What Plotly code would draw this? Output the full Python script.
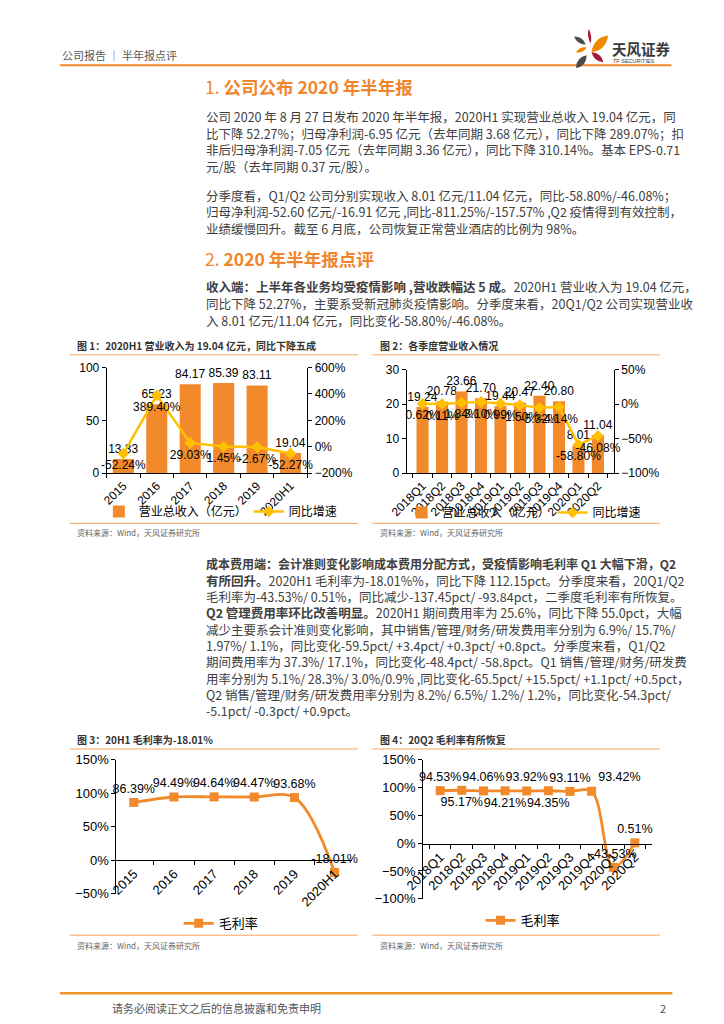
import plotly.graph_objects as go

W, H = 724, 1024


def px(x):
    return x / W


def py(y):
    return 1 - y / H


# ---------------- data ----------------
years = ["2015", "2016", "2017", "2018", "2019", "2020H1"]
revenue = [13.33, 65.23, 84.17, 85.39, 83.11, 19.04]
revenue_yoy = [-52.24, 389.40, 29.03, 1.45, -2.67, -52.27]

quarters = ["2018Q1", "2018Q2", "2018Q3", "2018Q4", "2019Q1",
            "2019Q2", "2019Q3", "2019Q4", "2020Q1", "2020Q2"]
q_revenue = [19.24, 20.78, 23.66, 21.70, 19.44, 20.47, 22.40, 20.80, 8.01, 11.04]
q_yoy = [0.62, 0.11, 1.84, 3.10, 0.99, -1.50, -5.32, -4.14, -58.80, -46.08]

gross_margin = [86.39, 94.49, 94.64, 94.47, 93.68, -18.01]
q_gross_margin = [94.53, 95.17, 94.06, 94.21, 93.92, 94.35, 93.11, 93.42, -43.53, 0.51]
q_gm_textpos = ["top center", "bottom center", "top center", "bottom center", "top center",
                "bottom center", "top center", "top right", "top center", "top center"]

ORANGE = "#F28A2C"
GOLD = "#FFC000"
LINE_OR = "#F5A25A"
CJK = "Noto Sans CJK SC"
NUMF = "Liberation Sans, Noto Sans CJK SC"

fig = go.Figure()

# ---------------- chart 1 ----------------
fig.add_trace(go.Bar(
    x=years, y=revenue, xaxis="x", yaxis="y", name="营业总收入（亿元）",
    marker=dict(color=ORANGE, line=dict(width=0)), width=0.63,
    text=[f"{v:.2f}" for v in revenue], textposition="outside",
    textfont=dict(size=12, color="#000", family=NUMF),
    cliponaxis=False, constraintext="none", legend="legend"))
fig.add_trace(go.Scatter(
    x=years, y=revenue_yoy, xaxis="x", yaxis="y2", name="同比增速",
    mode="lines+markers+text", line=dict(color=GOLD, width=2.5),
    marker=dict(symbol="diamond", size=9, color=GOLD),
    text=[f"{v:.2f}%" for v in revenue_yoy], textposition="bottom center",
    textfont=dict(size=12, color="#000", family=NUMF),
    cliponaxis=False, legend="legend2"))

# ---------------- chart 2 ----------------
fig.add_trace(go.Bar(
    x=quarters, y=q_revenue, xaxis="x2", yaxis="y3", name="营业总收入（亿元）",
    marker=dict(color=ORANGE, line=dict(width=0)), width=0.62,
    text=[f"{v:.2f}" for v in q_revenue], textposition="outside",
    textfont=dict(size=12, color="#000", family=NUMF),
    cliponaxis=True, constraintext="none", legend="legend3"))
fig.add_trace(go.Scatter(
    x=quarters, y=q_yoy, xaxis="x2", yaxis="y4", name="同比增速",
    mode="lines+markers+text", line=dict(color=GOLD, width=2.5),
    marker=dict(symbol="diamond", size=9, color=GOLD),
    text=[f"{v:.2f}%" for v in q_yoy], textposition="bottom center",
    textfont=dict(size=12, color="#000", family=NUMF),
    cliponaxis=False, legend="legend4"))

# ---------------- chart 3 ----------------
fig.add_trace(go.Scatter(
    x=years, y=gross_margin, xaxis="x3", yaxis="y5", name="毛利率",
    mode="lines+markers+text", line=dict(color=ORANGE, width=2.8, shape="spline", smoothing=1),
    marker=dict(symbol="square", size=9, color=ORANGE),
    text=[f"{v:.2f}%" for v in gross_margin], textposition="top center",
    textfont=dict(size=12.5, color="#000", family=NUMF),
    cliponaxis=False, legend="legend5"))

# ---------------- chart 4 ----------------
fig.add_trace(go.Scatter(
    x=quarters, y=q_gross_margin, xaxis="x4", yaxis="y6", name="毛利率",
    mode="lines+markers+text", line=dict(color=ORANGE, width=2.8, shape="spline", smoothing=1),
    marker=dict(symbol="square", size=9, color=ORANGE),
    text=[f"{v:.2f}%" for v in q_gross_margin], textposition=q_gm_textpos,
    textfont=dict(size=12.5, color="#000", family=NUMF),
    cliponaxis=False, legend="legend6"))

axbase = dict(showline=True, linecolor="#000", linewidth=1, ticks="outside",
              tickcolor="#000", ticklen=4, showgrid=False, zeroline=False,
              tickfont=dict(size=12, color="#000", family=NUMF), fixedrange=True)
axbig = dict(axbase, tickfont=dict(size=13, color="#000", family=NUMF))

xcat = dict(axbase, type="category", tickangle=-45, tickson="boundaries")
xcatbig = dict(axbig, type="category", tickangle=-45, tickson="boundaries")

fig.update_layout(
    width=W, height=H, margin=dict(l=0, r=0, t=0, b=0),
    paper_bgcolor="white", plot_bgcolor="rgba(0,0,0,0)",
    font=dict(family=CJK, color="#333"),
    showlegend=True,
    xaxis=dict(xcat, domain=[px(90), px(296)], anchor="y"),
    yaxis=dict(axbase, domain=[py(473), py(366)], range=[0, 100], dtick=50, anchor="x"),
    yaxis2=dict(axbase, overlaying="y", side="right", anchor="x", range=[-200, 600],
                dtick=200, ticksuffix="%"),
    xaxis2=dict(xcat, domain=[px(398), px(611)], anchor="y3"),
    yaxis3=dict(axbase, domain=[py(473), py(368)], range=[0, 30], dtick=10, anchor="x2"),
    yaxis4=dict(axbase, overlaying="y3", side="right", anchor="x2", range=[-100, 50],
                dtick=50, ticksuffix="%"),
    xaxis3=dict(xcatbig, domain=[px(100), px(342)], anchor="free", position=py(866)),
    yaxis5=dict(axbig, domain=[py(900), py(764)], range=[-50, 150], dtick=50,
                ticksuffix="%", anchor="x3"),
    xaxis4=dict(xcatbig, domain=[px(415), px(650)], anchor="free", position=py(849)),
    yaxis6=dict(axbig, domain=[py(905), py(764)], range=[-100, 150], dtick=50,
                ticksuffix="%", anchor="x4"),
)

legbase = dict(orientation="h", xanchor="left", yanchor="middle", itemwidth=30,
               bgcolor="rgba(0,0,0,0)", font=dict(size=12, color="#000", family=CJK))
fig.update_layout(
    legend=dict(legbase, x=px(82), y=py(512)),
    legend2=dict(legbase, x=px(236), y=py(512)),
    legend3=dict(legbase, x=px(393), y=py(513)),
    legend4=dict(legbase, x=px(548), y=py(513)),
    legend5=dict(legbase, x=px(164), y=py(930), font=dict(size=13, color="#000", family=CJK)),
    legend6=dict(legbase, x=px(474), y=py(927), font=dict(size=13, color="#000", family=CJK)),
)

# ---------------- decorative lines ----------------
shapes = []


def hline(x0, x1, y, color, w):
    shapes.append(dict(type="line", xref="paper", yref="paper", x0=px(x0), x1=px(x1),
                       y0=py(y), y1=py(y), line=dict(color=color, width=w)))


hline(42, 670, 59, "#F0882B", 2)
hline(42, 671, 1001, "#F0952B", 2.5)
for (a, b) in [(52, 348), (363, 658)]:
    for yy in (353, 524, 753, 942):
        hline(a, b, yy, LINE_OR, 1)


def leaf(x1, y1, x2, y2, w, color):
    mx, my = (x1 + x2) / 2, (y1 + y2) / 2
    dx, dy = x2 - x1, y2 - y1
    ln = (dx * dx + dy * dy) ** 0.5
    nx, ny = -dy / ln * w, dx / ln * w
    c1 = (mx + nx, my + ny)
    c2 = (mx - nx, my - ny)
    p = (f"M {px(x1)},{py(y1)} Q {px(c1[0])},{py(c1[1])} {px(x2)},{py(y2)} "
         f"Q {px(c2[0])},{py(c2[1])} {px(x1)},{py(y1)} Z")
    shapes.append(dict(type="path", xref="paper", yref="paper", path=p,
                       fillcolor=color, line=dict(width=0)))


CRIM = "#A8183A"
DGRAY = "#4B4B4B"
LOGO_OR = "#EF8A00"
leaf(585, 22, 587, 37, 3, CRIM)
leaf(570, 30, 582, 38, 5, DGRAY)
leaf(588, 46, 605, 29, 9, LOGO_OR)
leaf(572, 46, 583, 41, 4, LOGO_OR)
leaf(588, 46, 600, 56, 6, CRIM)
leaf(583, 49, 572, 62, 7, DGRAY)

fig.update_layout(shapes=shapes)

# ---------------- text ----------------
ann = []


def txt(x, y, s, size=12.5, color="#404040", anchor="left", family=CJK):
    ann.append(dict(x=px(x), y=py(y), xref="paper", yref="paper", text=s, showarrow=False,
                    xanchor=anchor, yanchor="middle", align="left",
                    font=dict(size=size, color=color, family=family)))


txt(42, 49, "公司报告 ｜ 半年报点评", size=11, color="#595959")
txt(607, 42, "<b>天风证券</b>", size=14.5, color="#3A3A3A")
txt(608, 55, "TF SECURITIES", size=5.5, color="#3A3A3A", family="Liberation Sans")

TITLE_OR = "#F0852B"
txt(189, 81, "1. <b>公司公布 2020 年半年报</b>", size=17.5, color=TITLE_OR)
body_top = [
    (111, "公司 2020 年 8 月 27 日发布 2020 年半年报，2020H1 实现营业总收入 19.04 亿元，同"),
    (128, "比下降 52.27%；归母净利润-6.95 亿元（去年同期 3.68 亿元），同比下降 289.07%；扣"),
    (145, "非后归母净利润-7.05 亿元（去年同期 3.36 亿元），同比下降 310.14%。基本 EPS-0.71"),
    (162, "元/股（去年同期 0.37 元/股）。"),
    (191, "分季度看，Q1/Q2 公司分别实现收入 8.01 亿元/11.04 亿元，同比-58.80%/-46.08%；"),
    (208, "归母净利润-52.60 亿元/-16.91 亿元 ,同比-811.25%/-157.57% ,Q2 疫情得到有效控制，"),
    (225, "业绩缓慢回升。截至 6 月底，公司恢复正常营业酒店的比例为 98%。"),
    (284, "<b>收入端：上半年各业务均受疫情影响 ,营收跌幅达 5 成。</b>2020H1 营业收入为 19.04 亿元，"),
    (301, "同比下降 52.27%，主要系受新冠肺炎疫情影响。分季度来看，20Q1/Q2 公司实现营业收"),
    (318, "入 8.01 亿元/11.04 亿元，同比变化-58.80%/-46.08%。"),
]
for y, s in body_top:
    txt(190, y, s)
txt(189, 255, "2. <b>2020 年半年报点评</b>", size=17.5, color=TITLE_OR)

body_low = [
    "<b>成本费用端：会计准则变化影响成本费用分配方式，受疫情影响毛利率 Q1 大幅下滑，Q2</b>",
    "<b>有所回升。</b>2020H1 毛利率为-18.01%%，同比下降 112.15pct。分季度来看，20Q1/Q2",
    "毛利率为-43.53%/ 0.51%，同比减少-137.45pct/ -93.84pct，二季度毛利率有所恢复。",
    "<b>Q2 管理费用率环比改善明显。</b>2020H1 期间费用率为 25.6%，同比下降 55.0pct，大幅",
    "减少主要系会计准则变化影响，其中销售/管理/财务/研发费用率分别为 6.9%/ 15.7%/",
    "1.97%/ 1.1%，同比变化-59.5pct/ +3.4pct/ +0.3pct/ +0.8pct。分季度来看，Q1/Q2",
    "期间费用率为 37.3%/ 17.1%，同比变化-48.4pct/ -58.8pct。Q1 销售/管理/财务/研发费",
    "用率分别为 5.1%/ 28.3%/ 3.0%/0.9% ,同比变化-65.5pct/ +15.5pct/ +1.1pct/ +0.5pct，",
    "Q2 销售/管理/财务/研发费用率分别为 8.2%/ 6.5%/ 1.2%/ 1.2%，同比变化-54.3pct/",
    "-5.1pct/ -0.3pct/ +0.9pct。",
]
for i, s in enumerate(body_low):
    sz = 12.0 if i == 0 else 12.5
    txt(190, 565 + 16.6 * i, s, size=sz)

# chart titles & sources
txt(58, 344, "<b>图 1：2020H1 营业收入为 19.04 亿元，同比下降五成</b>", size=10, color="#333")
txt(369, 344, "<b>图 2：各季度营业收入情况</b>", size=10, color="#333")
txt(58, 743, "<b>图 3：20H1 毛利率为-18.01%</b>", size=10, color="#333")
txt(369, 743, "<b>图 4：20Q2 毛利率有所恢复</b>", size=10, color="#333")
for (x, y) in [(58, 533), (369, 533), (58, 952), (369, 952)]:
    txt(x, y, "资料来源：Wind，天风证券研究所", size=8, color="#666")

txt(93, 1016, "请务必阅读正文之后的信息披露和免责申明", size=11, color="#555")
txt(666, 1016, "2", size=11, color="#555", anchor="right")

fig.update_layout(annotations=ann)

fig.write_html("out.html", config={"displayModeBar": False},
               post_script="document.body.style.margin='0';document.body.style.overflow='hidden';")
